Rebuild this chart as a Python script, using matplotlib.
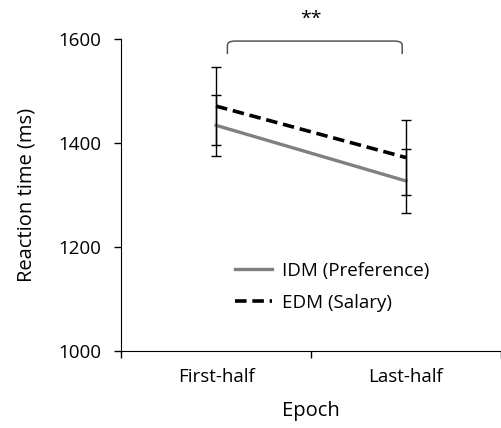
import numpy as np
import matplotlib.pyplot as plt
from matplotlib.lines import Line2D
from matplotlib.path import Path
from matplotlib.patches import PathPatch

plt.rcParams['font.family'] = ['Open Sans', 'DejaVu Sans']

# Mean reaction times and error bars per epoch
epochs = ["First-half", "Last-half"]
idm_mean = [1434, 1327]
idm_err = [59, 62]
edm_mean = [1471, 1372]
edm_err = [75, 72]

fig = plt.figure(figsize=(5.01, 4.28), dpi=100)
ax = fig.add_axes([121 / 501, 77 / 428, 380 / 501, 312 / 428])

x = np.array([0.5, 1.5])
idm_style = dict(color="#808080", lw=2.4)
edm_style = dict(color="black", lw=2.6, ls=(0, (3.2, 1.6)))

ax.errorbar(x, idm_mean, yerr=idm_err, ecolor="black", elinewidth=1,
            capsize=3.5, capthick=1, zorder=3, **idm_style)
ax.errorbar(x, edm_mean, yerr=edm_err, ecolor="black", elinewidth=1,
            capsize=3.5, capthick=1, zorder=4, **edm_style)

ax.set_xlim(0, 2)
ax.set_ylim(1000, 1600)
ax.set_yticks([1000, 1200, 1400, 1600])
ax.set_xticks([0, 1, 2])
ax.set_xticklabels([])
ax.set_xticks(x, minor=True)
ax.set_xticklabels(epochs, minor=True)
ax.tick_params(axis="x", which="minor", length=0, pad=12, labelsize=13.5)
ax.tick_params(axis="x", which="major", length=5, width=1, direction="out")
ax.tick_params(axis="y", length=5, width=1, labelsize=13.5, pad=9)
ax.spines["top"].set_visible(False)
ax.spines["right"].set_visible(False)
ax.set_ylabel("Reaction time (ms)", fontsize=14.5, labelpad=16)
ax.set_xlabel("Epoch", fontsize=14.5, labelpad=11)

# significance bracket between the two epochs
x0, x1 = 0.56, 1.48
ytop, ybot = 1596, 1571
r = 0.04
verts = [(x0, ybot), (x0, ytop - 8), (x0, ytop), (x0 + r, ytop),
         (x1 - r, ytop), (x1, ytop), (x1, ytop - 8), (x1, ybot)]
codes = [Path.MOVETO, Path.LINETO, Path.CURVE3, Path.CURVE3,
         Path.LINETO, Path.CURVE3, Path.CURVE3, Path.LINETO]
ax.add_patch(PathPatch(Path(verts, codes), fill=False, lw=1.1,
                       edgecolor="#555555", clip_on=False))
ax.text(1.0, 1638, "**", ha="center", va="center", fontsize=14, clip_on=False)

# legend with plain line samples
handles = [Line2D([], [], **idm_style), Line2D([], [], **edm_style)]
ax.legend(handles, ["IDM (Preference)", "EDM (Salary)"], loc="upper left",
          bbox_to_anchor=(0.255, 0.34), frameon=False, fontsize=13.5,
          handlelength=2.0, handletextpad=0.5, labelspacing=0.75)

fig.savefig("out.png", dpi=100)
